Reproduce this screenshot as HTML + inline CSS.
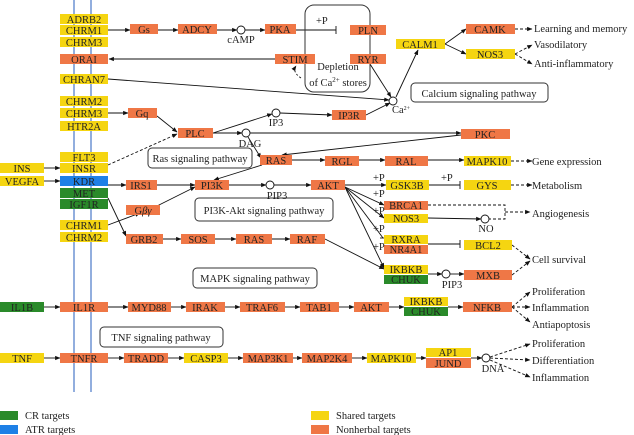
<!DOCTYPE html>
<html><head><meta charset="utf-8"><style>
html,body{margin:0;padding:0;background:#fff;}
svg{display:block;}
text{font-family:"Liberation Serif",serif;font-size:10.5px;fill:#222;}
.b text{text-anchor:middle;}
</style></head><body>
<svg width="634" height="435" viewBox="0 0 634 435" xmlns="http://www.w3.org/2000/svg">
<defs>
<marker id="a" viewBox="0 0 10 10" refX="9" refY="5" markerWidth="6" markerHeight="6" orient="auto"><path d="M0,1 L10,5 L0,9 z" fill="#111"/></marker>
</defs>
<line x1="74" y1="0" x2="74" y2="392" stroke="#4a78c8" stroke-width="1.2"/>
<line x1="91" y1="0" x2="91" y2="392" stroke="#4a78c8" stroke-width="1.2"/>

<g stroke="#111" stroke-width="0.9" fill="none">
<line x1="108" y1="30" x2="130" y2="30" marker-end="url(#a)"/>
<line x1="158" y1="30" x2="178" y2="30" marker-end="url(#a)"/>
<line x1="217" y1="30" x2="237" y2="30" marker-end="url(#a)"/>
<line x1="245" y1="30" x2="265" y2="30" marker-end="url(#a)"/>
<line x1="296" y1="30" x2="336" y2="30"/><line x1="336" y1="26" x2="336" y2="34"/>
<line x1="275" y1="59" x2="109" y2="59" marker-end="url(#a)"/>
<path d="M301,78 Q292,72 296,66" stroke-dasharray="2,2" marker-end="url(#a)"/>
<line x1="108" y1="79" x2="389" y2="100" marker-end="url(#a)"/>
<line x1="370" y1="64" x2="391" y2="97" marker-end="url(#a)"/>
<line x1="366" y1="115" x2="390" y2="103" marker-end="url(#a)"/>
<line x1="396" y1="97" x2="418" y2="50" marker-end="url(#a)"/>
<line x1="445" y1="44" x2="466" y2="29" marker-end="url(#a)"/>
<line x1="445" y1="44" x2="466" y2="54" marker-end="url(#a)"/>
<g stroke-dasharray="3,2">
<line x1="515" y1="29" x2="532" y2="29" marker-end="url(#a)"/>
<line x1="515" y1="54" x2="532" y2="45" marker-end="url(#a)"/>
<line x1="515" y1="54" x2="532" y2="64" marker-end="url(#a)"/>
</g>
<line x1="108" y1="113" x2="128" y2="113" marker-end="url(#a)"/>
<line x1="157" y1="116" x2="177" y2="132" marker-end="url(#a)"/>
<line x1="108" y1="165" x2="177" y2="134" stroke-dasharray="3,2" marker-end="url(#a)"/>
<line x1="213" y1="133" x2="272" y2="114" marker-end="url(#a)"/>
<line x1="280" y1="113" x2="332" y2="115" marker-end="url(#a)"/>
<line x1="213" y1="133" x2="242" y2="133" marker-end="url(#a)"/>
<line x1="250" y1="133" x2="461" y2="133" marker-end="url(#a)"/>
<line x1="461" y1="135" x2="282" y2="155" marker-end="url(#a)"/>
<line x1="248" y1="137" x2="261" y2="158" marker-end="url(#a)"/>
<line x1="292" y1="160" x2="325" y2="160" marker-end="url(#a)"/>
<line x1="359" y1="160" x2="385" y2="160" marker-end="url(#a)"/>
<line x1="428" y1="160" x2="464" y2="160" marker-end="url(#a)"/>
<line x1="511" y1="161" x2="532" y2="161" stroke-dasharray="3,2" marker-end="url(#a)"/>
<line x1="262" y1="165" x2="214" y2="180" marker-end="url(#a)"/>
<line x1="108" y1="185" x2="126" y2="185" marker-end="url(#a)"/>
<line x1="157" y1="185" x2="195" y2="185" marker-end="url(#a)"/>
<line x1="155" y1="207" x2="195" y2="187" marker-end="url(#a)"/>
<line x1="229" y1="185" x2="266" y2="185" marker-end="url(#a)"/>
<line x1="274" y1="185" x2="311" y2="185" marker-end="url(#a)"/>
<line x1="345" y1="185" x2="386" y2="185" marker-end="url(#a)"/>
<line x1="429" y1="185" x2="460" y2="185"/><line x1="460" y1="181" x2="460" y2="189"/>
<line x1="511" y1="185" x2="532" y2="185" stroke-dasharray="3,2" marker-end="url(#a)"/>
<line x1="345" y1="187" x2="384" y2="205" marker-end="url(#a)"/>
<line x1="345" y1="187" x2="384" y2="218" marker-end="url(#a)"/>
<line x1="345" y1="187" x2="383" y2="238"/><line x1="380" y1="238" x2="386" y2="238"/>
<line x1="345" y1="187" x2="384" y2="268" marker-end="url(#a)"/>
<line x1="428" y1="218" x2="481" y2="219" marker-end="url(#a)"/>
<path d="M428,205 L505,205 L505,219 L489,219" stroke-dasharray="3,2"/>
<line x1="505" y1="212" x2="530" y2="212" stroke-dasharray="3,2" marker-end="url(#a)"/>
<line x1="428" y1="244" x2="460" y2="244"/><line x1="460" y1="240" x2="460" y2="248"/>
<line x1="512" y1="245" x2="530" y2="259" stroke-dasharray="3,2" marker-end="url(#a)"/>
<line x1="512" y1="275" x2="530" y2="261" stroke-dasharray="3,2" marker-end="url(#a)"/>
<line x1="428" y1="274" x2="442" y2="274" marker-end="url(#a)"/>
<line x1="450" y1="274" x2="464" y2="274" marker-end="url(#a)"/>
<line x1="325" y1="239" x2="384" y2="269" marker-end="url(#a)"/>
<line x1="108" y1="198" x2="126" y2="236" marker-end="url(#a)"/>
<line x1="108" y1="225" x2="140" y2="213" marker-end="url(#a)"/>
<line x1="163" y1="239" x2="181" y2="239" marker-end="url(#a)"/>
<line x1="215" y1="239" x2="236" y2="239" marker-end="url(#a)"/>
<line x1="272" y1="239" x2="290" y2="239" marker-end="url(#a)"/>
<line x1="44" y1="307" x2="60" y2="307" marker-end="url(#a)"/>
<line x1="108" y1="307" x2="128" y2="307" marker-end="url(#a)"/>
<line x1="171" y1="307" x2="186" y2="307" marker-end="url(#a)"/>
<line x1="225" y1="307" x2="240" y2="307" marker-end="url(#a)"/>
<line x1="285" y1="307" x2="300" y2="307" marker-end="url(#a)"/>
<line x1="339" y1="307" x2="354" y2="307" marker-end="url(#a)"/>
<line x1="389" y1="307" x2="404" y2="307" marker-end="url(#a)"/>
<line x1="448" y1="307" x2="463" y2="307" marker-end="url(#a)"/>
<g stroke-dasharray="3,2">
<line x1="512" y1="307" x2="530" y2="292" marker-end="url(#a)"/>
<line x1="512" y1="307" x2="530" y2="307" marker-end="url(#a)"/>
<line x1="512" y1="307" x2="530" y2="322" marker-end="url(#a)"/>
</g>
<line x1="44" y1="358" x2="60" y2="358" marker-end="url(#a)"/>
<line x1="108" y1="358" x2="124" y2="358" marker-end="url(#a)"/>
<line x1="168" y1="358" x2="184" y2="358" marker-end="url(#a)"/>
<line x1="228" y1="358" x2="243" y2="358" marker-end="url(#a)"/>
<line x1="293" y1="358" x2="302" y2="358" marker-end="url(#a)"/>
<line x1="352" y1="358" x2="367" y2="358" marker-end="url(#a)"/>
<line x1="416" y1="358" x2="426" y2="358" marker-end="url(#a)"/>
<line x1="471" y1="358" x2="482" y2="358" marker-end="url(#a)"/>
<g stroke-dasharray="3,2">
<line x1="490" y1="357" x2="530" y2="344" marker-end="url(#a)"/>
<line x1="490" y1="358" x2="530" y2="360" marker-end="url(#a)"/>
<line x1="490" y1="360" x2="530" y2="377" marker-end="url(#a)"/>
</g>
<line x1="44" y1="168" x2="60" y2="168" marker-end="url(#a)"/>
<line x1="44" y1="181" x2="60" y2="181" marker-end="url(#a)"/>
</g>

<g fill="#fff" stroke="#111" stroke-width="0.9">
<circle cx="241" cy="30" r="4"/><circle cx="276" cy="113" r="4"/><circle cx="246" cy="133" r="4"/>
<circle cx="270" cy="185" r="4"/><circle cx="393" cy="101" r="4"/><circle cx="485" cy="219" r="4"/>
<circle cx="446" cy="274" r="4"/><circle cx="486" cy="358" r="4"/>
</g>

<g fill="none" stroke="#333" stroke-width="1">
<rect x="305" y="5" width="65" height="87" rx="9"/>
<rect x="411" y="83" width="137" height="19" rx="4"/>
<rect x="148" y="148" width="104" height="20" rx="4"/>
<rect x="195" y="198" width="138" height="23" rx="4"/>
<rect x="193" y="268" width="124" height="20" rx="4"/>
<rect x="100" y="327" width="123" height="20" rx="4"/>
</g>
<g font-size="11">
<text x="338" y="70" text-anchor="middle">Depletion</text>
<text x="338" y="86" text-anchor="middle">of Ca<tspan dy="-4" font-size="7">2+</tspan><tspan dy="4"> stores</tspan></text>
<text x="479" y="97" text-anchor="middle">Calcium signaling pathway</text>
<text x="200" y="162" text-anchor="middle">Ras signaling pathway</text>
<text x="264" y="214" text-anchor="middle">PI3K-Akt signaling pathway</text>
<text x="255" y="282" text-anchor="middle">MAPK signaling pathway</text>
<text x="161" y="341" text-anchor="middle">TNF signaling pathway</text>
</g>

<g class="b">
<g fill="#f5d511">
<rect x="60" y="14" width="48" height="10"/><rect x="60" y="25" width="48" height="10"/><rect x="60" y="37" width="48" height="10"/>
<rect x="60" y="74" width="48" height="10"/><rect x="60" y="96" width="48" height="10"/><rect x="60" y="108" width="48" height="10"/><rect x="60" y="121" width="48" height="10"/>
<rect x="60" y="152" width="48" height="10"/><rect x="60" y="163" width="48" height="10"/>
<rect x="0" y="163" width="44" height="10"/><rect x="0" y="176" width="44" height="10"/>
<rect x="60" y="220" width="48" height="10"/><rect x="60" y="232" width="48" height="10"/>
<rect x="396" y="39" width="49" height="10"/><rect x="466" y="49" width="49" height="10"/>
<rect x="464" y="156" width="47" height="10"/><rect x="386" y="180" width="43" height="10"/><rect x="464" y="180" width="47" height="10"/>
<rect x="384" y="214" width="44" height="9"/><rect x="384" y="235" width="44" height="9"/><rect x="464" y="240" width="48" height="10"/>
<rect x="384" y="265" width="44" height="9"/><rect x="404" y="297" width="44" height="9"/>
<rect x="0" y="353" width="44" height="10"/><rect x="184" y="353" width="44" height="10"/><rect x="367" y="353" width="49" height="10"/><rect x="426" y="348" width="45" height="9"/>
<rect x="311" y="411" width="18" height="9"/>
</g>
<g fill="#ef7746">
<rect x="60" y="54" width="48" height="10"/><rect x="130" y="24" width="28" height="10"/><rect x="178" y="24" width="39" height="10"/><rect x="265" y="24" width="31" height="10"/>
<rect x="275" y="54" width="40" height="10"/><rect x="350" y="25" width="36" height="10"/><rect x="350" y="54" width="36" height="10"/>
<rect x="466" y="24" width="49" height="10"/><rect x="332" y="110" width="34" height="10"/>
<rect x="128" y="108" width="29" height="10"/><rect x="178" y="128" width="35" height="10"/><rect x="461" y="129" width="49" height="10"/>
<rect x="260" y="155" width="32" height="10"/><rect x="325" y="156" width="34" height="10"/><rect x="385" y="156" width="43" height="10"/>
<rect x="126" y="180" width="31" height="10"/><rect x="195" y="180" width="34" height="10"/><rect x="311" y="180" width="34" height="10"/>
<rect x="126" y="205" width="34" height="10"/><rect x="384" y="201" width="44" height="9"/><rect x="384" y="245" width="44" height="9"/>
<rect x="126" y="234" width="37" height="10"/><rect x="181" y="234" width="34" height="10"/><rect x="236" y="234" width="36" height="10"/><rect x="290" y="234" width="35" height="10"/>
<rect x="464" y="270" width="48" height="10"/>
<rect x="60" y="302" width="48" height="10"/><rect x="128" y="302" width="43" height="10"/><rect x="186" y="302" width="39" height="10"/><rect x="240" y="302" width="45" height="10"/><rect x="300" y="302" width="39" height="10"/><rect x="354" y="302" width="35" height="10"/><rect x="463" y="302" width="49" height="10"/>
<rect x="60" y="353" width="48" height="10"/><rect x="124" y="353" width="44" height="10"/><rect x="243" y="353" width="50" height="10"/><rect x="302" y="353" width="50" height="10"/><rect x="426" y="358" width="45" height="10"/>
<rect x="311" y="425" width="18" height="9"/>
</g>
<g fill="#2a8a2a">
<rect x="60" y="188" width="48" height="10"/><rect x="60" y="199" width="48" height="10"/><rect x="384" y="275" width="44" height="9"/><rect x="404" y="307" width="44" height="9"/><rect x="0" y="302" width="44" height="10"/>
<rect x="0" y="411" width="18" height="9"/>
</g>
<g fill="#1e80e6"><rect x="60" y="176" width="48" height="10"/><rect x="0" y="425" width="18" height="9"/></g>

<g font-size="10.6">
<text x="84" y="23">ADRB2</text><text x="84" y="34">CHRM1</text><text x="84" y="46">CHRM3</text>
<text x="84" y="63">ORAI</text><text x="84" y="83">CHRAN7</text><text x="84" y="105">CHRM2</text><text x="84" y="117">CHRM3</text><text x="84" y="130">HTR2A</text>
<text x="84" y="161">FLT3</text><text x="84" y="172">INSR</text><text x="84" y="185">KDR</text><text x="84" y="197">MET</text><text x="84" y="208">IGF1R</text>
<text x="22" y="172">INS</text><text x="22" y="185">VEGFA</text>
<text x="84" y="229">CHRM1</text><text x="84" y="241">CHRM2</text>
<text x="144" y="33">Gs</text><text x="197" y="33">ADCY</text><text x="280" y="33">PKA</text><text x="295" y="63">STIM</text>
<text x="368" y="34">PLN</text><text x="368" y="63">RYR</text><text x="420" y="48">CALM1</text><text x="490" y="33">CAMK</text><text x="490" y="58">NOS3</text>
<text x="349" y="119">IP3R</text><text x="142" y="117">Gq</text><text x="195" y="137">PLC</text><text x="485" y="138">PKC</text>
<text x="276" y="164">RAS</text><text x="342" y="165">RGL</text><text x="406" y="165">RAL</text><text x="487" y="165">MAPK10</text>
<text x="141" y="189">IRS1</text><text x="212" y="189">PI3K</text><text x="328" y="189">AKT</text><text x="407" y="189">GSK3B</text><text x="487" y="189">GYS</text>
<text x="143" y="214">G<tspan font-style="italic">βγ</tspan></text>
<text x="406" y="209">BRCA1</text><text x="406" y="222">NOS3</text><text x="406" y="243">RXRA</text><text x="406" y="253">NR4A1</text><text x="488" y="249">BCL2</text>
<text x="406" y="273">IKBKB</text><text x="406" y="283">CHUK</text><text x="488" y="279">MXB</text>
<text x="144" y="243">GRB2</text><text x="198" y="243">SOS</text><text x="254" y="243">RAS</text><text x="307" y="243">RAF</text>
<text x="22" y="311">IL1B</text><text x="84" y="311">IL1R</text><text x="149" y="311">MYD88</text><text x="205" y="311">IRAK</text><text x="262" y="311">TRAF6</text><text x="319" y="311">TAB1</text><text x="371" y="311">AKT</text>
<text x="426" y="305">IKBKB</text><text x="426" y="315">CHUK</text><text x="487" y="311">NFKB</text>
<text x="22" y="362">TNF</text><text x="84" y="362">TNFR</text><text x="146" y="362">TRADD</text><text x="206" y="362">CASP3</text><text x="268" y="362">MAP3K1</text><text x="327" y="362">MAP2K4</text><text x="391" y="362">MAPK10</text>
<text x="448" y="356">AP1</text><text x="448" y="367">JUND</text>
</g>
</g>

<g font-size="10.5">
<text x="241" y="43" text-anchor="middle">cAMP</text>
<text x="276" y="126" text-anchor="middle">IP3</text>
<text x="250" y="147" text-anchor="middle">DAG</text>
<text x="277" y="199" text-anchor="middle">PIP3</text>
<text x="452" y="288" text-anchor="middle">PIP3</text>
<text x="486" y="232" text-anchor="middle">NO</text>
<text x="493" y="372" text-anchor="middle">DNA</text>
<text x="392" y="113" font-size="8">Ca<tspan dy="-3" font-size="6">2+</tspan></text>
<text x="316" y="24">+P</text><text x="373" y="181">+P</text><text x="441" y="181">+P</text>
<text x="373" y="197">+P</text><text x="373" y="214">+P</text><text x="373" y="232">+P</text><text x="373" y="250">+P</text>
</g>
<g font-size="11.3">
<text x="534" y="32">Learning and memory</text>
<text x="534" y="48">Vasodilatory</text>
<text x="534" y="67">Anti-inflammatory</text>
<text x="532" y="165">Gene expression</text>
<text x="532" y="189">Metabolism</text>
<text x="532" y="217">Angiogenesis</text>
<text x="532" y="263">Cell survival</text>
<text x="532" y="295">Proliferation</text>
<text x="532" y="311">Inflammation</text>
<text x="532" y="328">Antiapoptosis</text>
<text x="532" y="347">Proliferation</text>
<text x="532" y="364">Differentiation</text>
<text x="532" y="381">Inflammation</text>
<text x="25" y="419">CR targets</text>
<text x="25" y="433">ATR targets</text>
<text x="336" y="419">Shared targets</text>
<text x="336" y="433">Nonherbal targets</text>
</g>
</svg>
</body></html>
